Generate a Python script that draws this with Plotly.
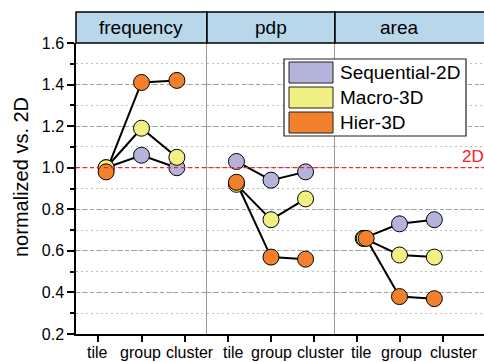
import plotly.graph_objects as go
from plotly.subplots import make_subplots

# ---- data ----
panels = ["frequency", "pdp", "area"]
categories = ["tile", "group", "cluster"]
series_names = ["Sequential-2D", "Macro-3D", "Hier-3D"]

seq_freq = [1.00, 1.06, 1.00]
macro_freq = [1.00, 1.19, 1.05]
hier_freq = [0.98, 1.41, 1.42]

seq_pdp = [1.03, 0.94, 0.98]
macro_pdp = [0.92, 0.75, 0.85]
hier_pdp = [0.93, 0.57, 0.56]

seq_area = [0.66, 0.73, 0.75]
macro_area = [0.66, 0.58, 0.57]
hier_area = [0.66, 0.38, 0.37]

y_ticks = [0.2, 0.4, 0.6, 0.8, 1.0, 1.2, 1.4, 1.6]
ref_value = 1.0

values = {
    "Sequential-2D": [seq_freq, seq_pdp, seq_area],
    "Macro-3D": [macro_freq, macro_pdp, macro_area],
    "Hier-3D": [hier_freq, hier_pdp, hier_area],
}
colors = {"Sequential-2D": "#b3b3dc", "Macro-3D": "#f1f082", "Hier-3D": "#f3802b"}

# marker placement within each panel (tick positions 0,1,2)
x_pos = [0.19, 1.0, 1.81]
# small side-by-side jitter for the coincident 'area / tile' point
tile_jitter_area = {"Sequential-2D": -0.035, "Macro-3D": -0.01, "Hier-3D": 0.035}
# horizontal nudges (px) of the category labels, per panel, to avoid overlap
label_shift = [[0, -1, 5], [5, 0, 7], [5, 2, 11]]

# ---- geometry (pixels) ----
W, H = 484, 362
L, T, B = 76, 43, 28
PW, PH = W - L, H - T - B
col_px = [131, 128, 149]

def px(x):
    return (x - L) / PW

def py(y):
    return (H - B - y) / PH

fig = make_subplots(rows=1, cols=3, shared_yaxes=True, horizontal_spacing=0,
                    column_widths=col_px)

# lines first (beneath all markers)
for name in series_names:
    for p in range(3):
        xs = list(x_pos)
        if p == 2:
            xs[0] += tile_jitter_area[name]
        fig.add_trace(go.Scatter(x=xs, y=values[name][p], mode="lines",
                                 line=dict(color="black", width=2),
                                 showlegend=False, hoverinfo="skip"),
                      row=1, col=p + 1)
for name in series_names:
    for p in range(3):
        xs = list(x_pos)
        if p == 2:
            xs[0] += tile_jitter_area[name]
        fig.add_trace(go.Scatter(x=xs, y=values[name][p], mode="markers",
                                 marker=dict(size=16, color=colors[name],
                                             line=dict(color="black", width=1)),
                                 name=name, showlegend=False),
                      row=1, col=p + 1)

font = "Liberation Sans, Arial, sans-serif"
xr = [[-0.5, 2.5], [-0.5, 2.5], [-0.5, -0.5 + col_px[2] / 43.0]]
for i in range(3):
    fig.update_xaxes(range=xr[i], tickvals=[0, 1, 2], ticktext=categories,
                     showticklabels=False, automargin=False,
                     showline=True, linecolor="black", linewidth=1.5,
                     ticks="outside", ticklen=6, tickwidth=1.5, tickcolor="black",
                     showgrid=False, zeroline=False,
                     row=1, col=i + 1)

for i in range(3):
    common = dict(range=[0.2, 1.6], tickvals=y_ticks, showgrid=True,
                  gridcolor="#a0a0a0", griddash="4px,3px", gridwidth=1,
                  zeroline=False, automargin=False,
                  minor=dict(dtick=0.1, tick0=0.1, showgrid=True, gridcolor="#c0c0c0",
                             griddash="2px,3px", gridwidth=1,
                             ticks="outside" if i == 0 else "", ticklen=4,
                             tickcolor="black", tickwidth=1.5))
    if i == 0:
        fig.update_yaxes(**common, showline=True, linecolor="black", linewidth=1.5,
                         ticks="outside", ticklen=7, tickwidth=1.5, tickcolor="black",
                         tickformat=".1f",
                         tickfont=dict(size=16, color="black", family=font),
                         row=1, col=1)
    else:
        fig.update_yaxes(**common, showline=True, linecolor="#999999", linewidth=1.2,
                         ticks="", showticklabels=False, row=1, col=i + 1)

shapes = []
# reference line at 2D = 1.0
shapes.append(dict(type="line", xref="paper", yref="y", x0=0, x1=1.05,
                   y0=ref_value, y1=ref_value, layer="above",
                   line=dict(color="#ff2020", width=1.2, dash="4px,3px")))
# panel header boxes
edges = [L, L + col_px[0], L + col_px[0] + col_px[1], W + 10]
for i in range(3):
    shapes.append(dict(type="rect", xref="paper", yref="paper",
                       x0=px(edges[i]), x1=px(edges[i + 1]), y0=1, y1=py(12),
                       fillcolor="#b8d7ea", line=dict(color="black", width=1.5),
                       layer="above"))
# legend box
shapes.append(dict(type="rect", xref="paper", yref="paper",
                   x0=px(284), x1=px(466), y0=py(136), y1=py(59),
                   fillcolor="white", line=dict(color="#222222", width=1.2),
                   layer="above"))
rows_y = [(62, 83), (87, 108), (112, 133)]
for name, (a, b) in zip(series_names, rows_y):
    shapes.append(dict(type="rect", xref="paper", yref="paper",
                       x0=px(289), x1=px(333), y0=py(b), y1=py(a),
                       fillcolor=colors[name], line=dict(color="#222222", width=1),
                       layer="above"))

annotations = []
header_centers = [141, 271, 399]
for p, cx in zip(panels, header_centers):
    annotations.append(dict(text=p, xref="paper", yref="paper",
                            x=px(cx), y=py(27.5), xanchor="center", yanchor="middle",
                            showarrow=False, font=dict(size=19, color="black", family=font)))
# category labels under each panel
xrefs = ["x", "x2", "x3"]
for p in range(3):
    for k, cat in enumerate(categories):
        annotations.append(dict(text=cat, xref=xrefs[p], yref="paper", x=k,
                                y=py(342), xanchor="center", yanchor="top",
                                xshift=label_shift[p][k], showarrow=False,
                                font=dict(size=16, color="black", family=font)))
for name, (a, b) in zip(series_names, rows_y):
    annotations.append(dict(text=name, xref="paper", yref="paper",
                            x=px(338), y=py((a + b) / 2), xanchor="left", yanchor="middle",
                            showarrow=False, font=dict(size=19, color="black", family=font)))
annotations.append(dict(text="2D", xref="paper", yref="paper", x=px(486), y=py(156),
                        xanchor="right", yanchor="middle", showarrow=False,
                        font=dict(size=17, color="#ff2020", family=font)))
annotations.append(dict(text="normalized vs. 2D", xref="paper", yref="paper",
                        x=px(21), y=py(177), xanchor="center", yanchor="middle",
                        textangle=-90, showarrow=False,
                        font=dict(size=20, color="black", family=font)))

fig.update_layout(width=W, height=H, margin=dict(l=L, r=0, t=T, b=B),
                  paper_bgcolor="white", plot_bgcolor="white",
                  shapes=shapes, annotations=annotations, showlegend=False,
                  font=dict(family=font))

fig.write_html("out.html")
